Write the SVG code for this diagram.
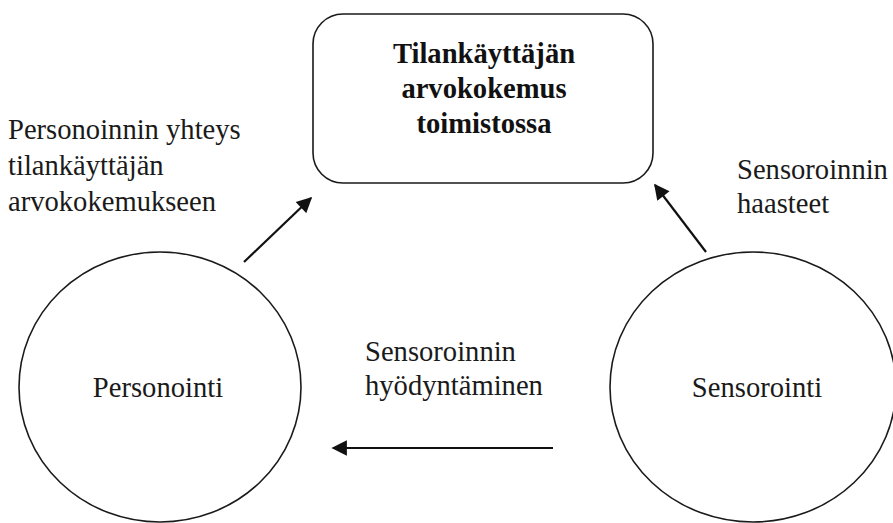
<svg xmlns="http://www.w3.org/2000/svg" width="893" height="523" viewBox="0 0 893 523">
  <style>
    .shape { fill: #ffffff; stroke: #1a1a1a; stroke-width: 1.6; }
    .label { font-family: "Liberation Serif", "Times New Roman", serif; font-size: 28.6px; fill: #1a1a1a; }
    .title { font-family: "Liberation Serif", "Times New Roman", serif; font-size: 28.6px; font-weight: bold; fill: #111111; text-anchor: middle; }
    .edge { stroke: #111111; stroke-width: 2.2; fill: none; marker-end: url(#head); }
  </style>
  <defs>
    <marker id="head" viewBox="0 0 10 10" refX="9" refY="5" markerWidth="7.5" markerHeight="7" markerUnits="strokeWidth" orient="auto">
      <path d="M0,0 L10,5 L0,10 z" fill="#111111"/>
    </marker>
  </defs>
  <rect width="893" height="523" fill="#ffffff"/>

  <g id="value-experience">
    <rect class="shape" x="313" y="14" width="340" height="169" rx="30" ry="30"/>
    <text class="title" x="484" y="63">Tilankäyttäjän</text>
    <text class="title" x="484" y="98">arvokokemus</text>
    <text class="title" x="484" y="133">toimistossa</text>
  </g>

  <g id="personointi">
    <ellipse class="shape" cx="160" cy="387" rx="141" ry="135"/>
    <text class="label" x="158" y="397" text-anchor="middle">Personointi</text>
  </g>

  <g id="sensorointi">
    <ellipse class="shape" cx="753" cy="387" rx="143" ry="135"/>
    <text class="label" x="757" y="397" text-anchor="middle">Sensorointi</text>
  </g>

  <g id="connectors">
    <line class="edge" x1="244" y1="262" x2="311" y2="198"/>
    <line class="edge" x1="706" y1="252" x2="655" y2="185"/>
    <line class="edge" x1="553" y1="448" x2="333" y2="448"/>
  </g>

  <g id="edge-labels">
    <text class="label" x="8" y="139">Personoinnin yhteys</text>
    <text class="label" x="8" y="175">tilankäyttäjän</text>
    <text class="label" x="8" y="211">arvokokemukseen</text>
    <text class="label" x="737" y="179">Sensoroinnin</text>
    <text class="label" x="737" y="213">haasteet</text>
    <text class="label" x="365" y="361">Sensoroinnin</text>
    <text class="label" x="365" y="395">hyödyntäminen</text>
  </g>
</svg>
